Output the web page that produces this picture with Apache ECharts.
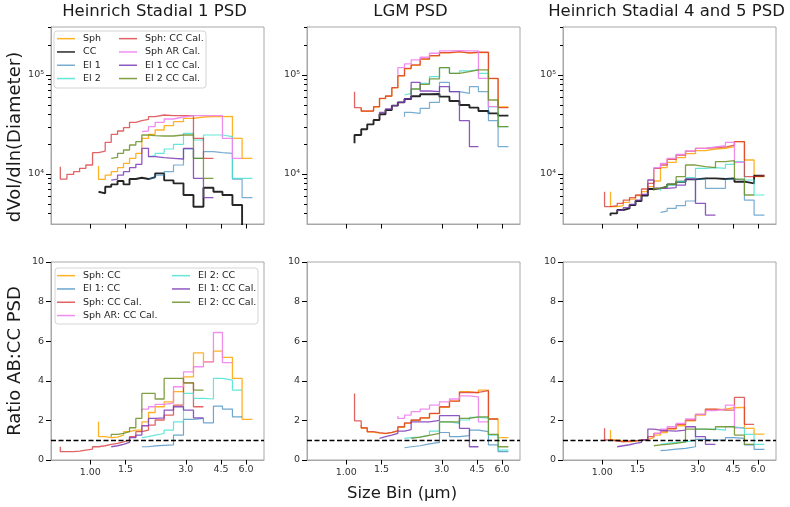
<!DOCTYPE html>
<html><head><meta charset="utf-8">
<script src="https://cdn.jsdelivr.net/npm/echarts@6/dist/echarts.min.js"></script>
<style>html,body{margin:0;padding:0;background:#fff}#c{width:790px;height:507px}</style>
</head><body><div id="c"></div>
<script>
// ---------------- data ----------------
// shared size-bin edges (µm)
const binEdges = [0.709,0.765,0.826,0.885,0.951,1.027,1.100,1.188,1.273,1.369,1.466,1.571,1.689,1.810,1.954,2.109,2.339,2.604,2.921,3.276,3.675,4.122,4.571,5.127,5.729,6.451];

const panelTitles = ['Heinrich Stadial 1 PSD', 'LGM PSD', 'Heinrich Stadial 4 and 5 PSD'];
const psdNames = ['Sph','CC','El 1','El 2','Sph: CC Cal.','Sph AR Cal.','El 1 CC Cal.','El 2 CC Cal.'];
const ratioNames = ['Sph: CC','El 1: CC','Sph: CC Cal.','Sph AR: CC Cal.','El 2: CC','El 1: CC Cal.','El 2: CC Cal.'];
const xTickVals = [1.0, 1.5, 3.0, 4.5, 6.0];
const xTickText = ['1.00','1.5','3.0','4.5','6.0'];
const yMajorVals = [1e4, 1e5];
const yMajorText = ['10\u2074','10\u2075'];
const yMinorVals = [4000,5000,6000,7000,8000,9000,20000,30000,40000,50000,60000,70000,80000,90000,200000,300000];
const ratioTicks = [0,2,4,6,8,10];
const refRatio = 1;

// ----- Heinrich Stadial 1 PSD (first bin index, values) -----
const hs1Starts = [6,6,14,14,0,13,8,8];
const hs1_sph   = [12050,8830,9770,10560,11590,12810,14400,16170,22930,25160,27830,30780,33780,36500,37650,37940,37940,38240,22930,14400];
const hs1_cc    = [6630,6380,7450,7860,8500,7860,8900,9180,8900,9320,10160,8630,8050,6140,4680,7280,6630,6140,4860,2830];
const hs1_el1   = [8900,9180,9770,10560,12330,17890,14400,16810,16420,16170,8900,5770];
const hs1_el2   = [14970,15320,16170,17890,19940,25750,22060,24770,24770,23830,9040,9040];
const hs1_sphCal= [11860,8900,9920,10560,11410,12330,16420,17070,20880,25160,27190,29380,33260,34570,35660,37940,39450,38840,38840,38840,22930,14400];
const hs1_sphAR = [26770,27190,30070,33260,35940,37650,38840,38840,38840,38840,22930,14400];
const hs1_el1Cal= [8700,8900,9770,10560,11590,12520,18170,14970,14620,14400,14180,18170,9040,5770];
const hs1_el2Cal= [14400,14740,16170,17480,19630,21210,24770,24390,24200,24200,24770,24770,14400,9040];

// ----- LGM PSD -----
const lgmStarts = [7,6,14,14,6,13,10,15];
const lgm_sph   = [46500,43000,43300,47500,57800,61000,74000,97500,115500,125000,144000,156000,167000,171000,166000,169000,168000,92000,47500];
const lgm_cc    = [20400,24770,28270,31750,35110,40070,44310,49000,52950,57240,60890,63790,64290,60420,54620,49770,46780,43290,41000,38840];
const lgm_el1   = [37940,41960,41000,46060,52950,84340,67850,65270,76240,67850,34570,18880];
const lgm_el2   = [62810,65270,72210,82400,96200,118600,104000,109800,112400,104000,47880,30070];
const lgm_sphCal= [67850,46780,43290,43290,47880,58130,61370,74490,98460,116800,126200,145100,156800,168100,172100,166800,169500,169500,92540,46780];
const lgm_sphAR = [100000,118600,129200,141800,150900,165600,174800,176100,174800,174800,92540,47880];
const lgm_el1Cal= [37940,41960,45350,49000,52950,57240,84340,68910,67850,76240,67850,34570,18880];
const lgm_el2Cal= [62810,72210,80490,91120,118600,104000,108100,112400,112400,55920,30070];

// ----- Heinrich Stadial 4 and 5 PSD -----
const hs45Starts = [6,6,14,14,5,13,7,13];
const hs45_sph   = [6630,4680,4790,5170,5590,6050,6630,7450,8500,11590,13110,14620,16050,17210,17890,18170,18880,21210,13850,9400];
const hs45_cc    = [3800,4010,4330,4500,4860,5340,6050,7060,7170,7450,7860,8370,8830,9040,9040,8900,9040,8370,8050,9620];
const hs45_el1   = [4100,4230,4500,4790,5340,8900,7170,7170,8900,8700,5460,3850];
const hs45_el2   = [6790,7170,7740,8370,9180,11410,11590,11410,12520,13320,8700,6140];
const hs45_sphCal= [6630,4680,4790,5060,5460,5770,6140,7060,8050,11410,12330,14070,15560,17070,18170,18450,18740,19630,21210,9400,9620];
const hs45_sphAR = [10560,11590,12810,14400,15800,17070,18170,18740,19330,20880,13110];
const hs45_el1Cal= [4100,4300,4570,4940,5460,6240,8700,7170,7170,7280,7740,8900,5060,3850];
const hs45_el2Cal= [6790,7170,7450,7860,9400,12330,11860,11590,13320,13630,8900,6140];

// ----- Ratio AB:CC, Heinrich Stadial 1 -----
const hs1rStarts = [6,13,0,13,13,8,8];
const hs1r_sph   = [1.93,1.18,1.13,1.16,1.26,1.43,1.51,1.51,1.93,2.40,2.69,2.94,3.45,4.20,5.41,4.96,5.50,5.18,4.12,2.05];
const hs1r_el1   = [0.67,0.67,0.71,0.74,0.76,1.26,2.05,2.10,1.88,2.72,2.57,2.18];
const hs1r_sphCal= [0.67,0.42,0.42,0.45,0.50,0.55,0.67,0.72,0.79,0.84,0.92,1.01,1.18,1.43,1.51,1.76,2.02,2.27,2.77,3.90,2.69];
const hs1r_sphAR = [2.44,2.57,2.69,2.81,2.87,3.70,4.45,4.71,4.96,6.44,4.92];
const hs1r_el2   = [1.13,1.18,1.26,1.34,1.51,1.93,3.36,3.11,3.08,4.12,4.03,3.53];
const hs1r_el1Cal= [0.67,0.72,0.79,0.89,1.13,1.26,1.73,2.10,2.13,2.52,2.69,2.52,2.13];
const hs1r_el2Cal= [1.18,1.29,1.34,1.43,1.63,2.10,3.36,3.36,3.08,4.12,4.12,3.90,3.53];

// ----- Ratio AB:CC, LGM -----
const lgmrStarts = [7,14,6,13,14,10,15];
const lgmr_sph   = [1.76,1.60,1.41,1.36,1.33,1.38,1.46,1.65,1.85,2.00,2.12,2.34,2.66,2.97,3.45,3.39,3.53,2.07,1.13];
const lgmr_el1   = [0.62,0.67,0.72,0.81,0.89,1.39,1.18,1.23,1.51,1.43,0.76,0.42];
const lgmr_sphCal= [3.36,1.98,1.63,1.43,1.38,1.34,1.39,1.48,1.68,1.88,2.02,2.13,2.35,2.69,2.97,3.41,3.41,3.50,2.07];
const lgmr_sphAR = [2.22,2.10,2.27,2.44,2.57,2.77,2.94,3.08,3.24,3.19,1.93];
const lgmr_el2   = [1.09,1.13,1.16,1.26,1.46,1.93,1.85,2.02,2.15,2.13,1.26,0.50];
const lgmr_el1Cal= [1.09,1.18,1.26,1.34,1.46,1.53,1.93,1.93,2.00,2.24,2.24,1.60,0.67];
const lgmr_el2Cal= [1.09,1.16,1.24,1.34,1.93,1.93,2.10,2.18,2.18,1.29,0.67];

// ----- Ratio AB:CC, Heinrich Stadial 4 and 5 -----
const hs45rStarts = [6,14,5,13,14,7,13];
const hs45r_sph   = [1.51,1.01,0.96,0.92,0.96,0.99,1.04,1.13,1.26,1.39,1.56,1.73,1.98,2.27,2.55,2.57,2.64,2.66,1.60,1.31];
const hs45r_el1   = [0.47,0.50,0.55,0.59,0.67,1.04,1.01,1.01,1.13,1.09,0.76,0.54];
const hs45r_sphCal= [1.60,1.01,0.96,0.92,0.96,0.97,1.01,1.04,1.18,1.34,1.46,1.60,1.80,2.02,2.30,2.57,2.52,2.52,3.16,1.80];
const hs45r_sphAR = [1.18,1.34,1.56,1.68,1.85,2.07,2.30,2.50,2.57,2.77,1.63];
const hs45r_el2   = [0.79,0.84,0.89,0.92,0.99,1.56,1.56,1.51,1.68,1.60,1.29,0.79];
const hs45r_el1Cal= [0.67,0.72,0.77,0.84,0.89,1.01,1.56,1.51,1.48,1.46,1.51,1.68,1.18,0.79];
const hs45r_el2Cal= [0.72,0.76,0.79,0.84,0.92,1.56,1.56,1.53,1.68,1.68,1.26,0.79];

// ---------------- styles / layout ----------------
const FONT = 'DejaVu Sans';
const X_MIN = 0.637, X_MAX = 7.37, Y_MIN = 3130, Y_MAX = 305000;
const gridLefts = [51, 307, 563];
const GW = 213;
const FRAME = '#a8a8a8';
const TICK = '#000';
const styleOf = {
  'Sph':            {c:'#ffa500', w:1.3, o:0.85},
  'CC':             {c:'#000000', w:1.9, o:0.85},
  'El 1':           {c:'#1f77b4', w:1.2, o:0.6},
  'El 2':           {c:'#40e0d0', w:1.2, o:0.8},
  'Sph: CC Cal.':   {c:'#d62728', w:1.3, o:0.72},
  'Sph AR Cal.':    {c:'#ee82ee', w:1.3, o:0.9},
  'El 1 CC Cal.':   {c:'#7b3ab5', w:1.3, o:0.85},
  'El 2 CC Cal.':   {c:'#6b8e23', w:1.3, o:0.85},
  'Sph: CC':        {c:'#ffa500', w:1.3, o:0.85},
  'El 1: CC':       {c:'#1f77b4', w:1.2, o:0.65},
  'Sph AR: CC Cal.':{c:'#ee82ee', w:1.3, o:0.9},
  'El 2: CC':       {c:'#40e0d0', w:1.2, o:0.8},
  'El 1: CC Cal.':  {c:'#7b3ab5', w:1.3, o:0.85},
  'El 2: CC Cal.':  {c:'#6b8e23', w:1.3, o:0.85}
};

const panels = [
  {p:0, log:true,  names:psdNames,   starts:hs1Starts,  vals:[hs1_sph,hs1_cc,hs1_el1,hs1_el2,hs1_sphCal,hs1_sphAR,hs1_el1Cal,hs1_el2Cal]},
  {p:1, log:true,  names:psdNames,   starts:lgmStarts,  vals:[lgm_sph,lgm_cc,lgm_el1,lgm_el2,lgm_sphCal,lgm_sphAR,lgm_el1Cal,lgm_el2Cal]},
  {p:2, log:true,  names:psdNames,   starts:hs45Starts, vals:[hs45_sph,hs45_cc,hs45_el1,hs45_el2,hs45_sphCal,hs45_sphAR,hs45_el1Cal,hs45_el2Cal]},
  {p:3, log:false, names:ratioNames, starts:hs1rStarts, vals:[hs1r_sph,hs1r_el1,hs1r_sphCal,hs1r_sphAR,hs1r_el2,hs1r_el1Cal,hs1r_el2Cal]},
  {p:4, log:false, names:ratioNames, starts:lgmrStarts, vals:[lgmr_sph,lgmr_el1,lgmr_sphCal,lgmr_sphAR,lgmr_el2,lgmr_el1Cal,lgmr_el2Cal]},
  {p:5, log:false, names:ratioNames, starts:hs45rStarts,vals:[hs45r_sph,hs45r_el1,hs45r_sphCal,hs45r_sphAR,hs45r_el2,hs45r_el1Cal,hs45r_el2Cal]}
];

// ---------------- build option ----------------
const grids = [], xAxes = [], yAxes = [], series = [];
const labelColor = '#333';
const near = (a, b) => Math.abs(a - b) < 1e-6 * Math.max(1, Math.abs(b));
const mkLine = () => ({show:true, onZero:false, lineStyle:{color:FRAME, width:1}});
for (let p = 0; p < 6; p++) {
  const top = p < 3;
  grids.push({left: gridLefts[p % 3], top: top ? 27 : 262, width: GW, height: top ? 197 : 198,
    show: true, borderColor: FRAME});
  xAxes.push({type:'log', logBase:10, gridIndex:p, min:X_MIN, max:X_MAX,
    axisLine:mkLine(), splitLine:{show:false}, minorTick:{show:false},
    axisTick:{show:true, customValues:xTickVals.slice(), length:4.5, lineStyle:{color:TICK, width:1}},
    axisLabel:{show:!top, customValues:xTickVals.slice(), margin:5, fontFamily:FONT, fontSize:9.5, color:labelColor,
      formatter: v => { const i = xTickVals.findIndex(t => near(v, t));
        return i < 0 ? '' : (i === 0 ? '{maj|' + xTickText[i] + '}' : xTickText[i]); },
      rich:{maj:{fontFamily:FONT, fontSize:9.5, color:labelColor, padding:[3,0,0,0]}}}
  });
}
// y axes: top panels major + minor (log), bottom panels linear
const yIndex = [];
for (let p = 0; p < 3; p++) {
  yIndex[p] = yAxes.length;
  yAxes.push({type:'log', logBase:10, gridIndex:p, min:Y_MIN, max:Y_MAX,
    axisLine:mkLine(), splitLine:{show:false},
    axisTick:{show:true, customValues:yMajorVals.slice(), length:5, lineStyle:{color:TICK, width:1}},
    axisLabel:{customValues:yMajorVals.slice(), margin:7, fontFamily:FONT, fontSize:9.5, color:labelColor,
      formatter: v => { const i = yMajorVals.findIndex(t => near(v, t)); return i >= 0 ? yMajorText[i] : ''; }}
  });
  yAxes.push({type:'log', logBase:10, gridIndex:p, min:Y_MIN, max:Y_MAX, position:'left',
    axisLine:mkLine(), splitLine:{show:false},
    axisTick:{show:true, customValues:yMinorVals.slice(), length:3, lineStyle:{color:TICK, width:1}},
    axisLabel:{show:false}
  });
}
for (let p = 3; p < 6; p++) {
  yIndex[p] = yAxes.length;
  yAxes.push({type:'value', gridIndex:p, min:ratioTicks[0], max:ratioTicks[ratioTicks.length-1], interval:2,
    axisLine:mkLine(), splitLine:{show:false},
    axisTick:{show:true, length:5, lineStyle:{color:TICK, width:1}},
    axisLabel:{margin:7, fontFamily:FONT, fontSize:9.5, color:labelColor}
  });
}

panels.forEach(pn => {
  pn.names.forEach((nm, k) => {
    const st = styleOf[nm];
    const s0 = pn.starts[k];
    const data = pn.vals[k].map((v, j) => [binEdges[s0 + j], v]);
    const s = {
      type:'line', name:nm, xAxisIndex:pn.p, yAxisIndex:yIndex[pn.p], step:'start',
      symbol:'none', showSymbol:false, clip:true, data:data, silent:true,
      lineStyle:{color:st.c, width:st.w, opacity:st.o}, itemStyle:{color:st.c, opacity:st.o},
      emphasis:{disabled:true}
    };
    if (!pn.log && k === pn.names.length - 1) {
      s.markLine = {silent:true, symbol:['none','none'], label:{show:false},
        lineStyle:{color:'#000', type:[5,2.5], width:1.3, opacity:1},
        emphasis:{disabled:true}, data:[{yAxis:refRatio}]};
    }
    series.push(s);
  });
});

const legends = [
  {data:psdNames.slice(0,4), left:57, top:32},
  {data:psdNames.slice(4),   left:119, top:32},
  {data:ratioNames.slice(0,4), left:57, top:269},
  {data:ratioNames.slice(4),   left:172, top:269}
].map(l => Object.assign({orient:'vertical', icon:'rect', itemWidth:18, itemHeight:1.5, itemGap:0, padding:0,
  selectedMode:false, z:20,
  textStyle:{fontFamily:FONT, fontSize:9.5, color:'#222', lineHeight:13.3, padding:[0,0,0,3]}}, l));

const titles = panelTitles.map((t, i) => ({text:t, left:gridLefts[i] + GW/2 - 3, top:3, textAlign:'center', padding:0,
  textStyle:{fontFamily:FONT, fontSize:16.5, fontWeight:'normal', color:'#1a1a1a'}}));

const option = {
  animation:false,
  backgroundColor:'#ffffff',
  title: titles,
  grid: grids,
  xAxis: xAxes,
  yAxis: yAxes,
  legend: legends,
  series: series,
  graphic: [
    {type:'rect', z:10, shape:{x:54, y:31, width:152, height:57, r:3}, style:{fill:'rgba(255,255,255,0.85)', stroke:'#d4d4d4', lineWidth:1}},
    {type:'rect', z:10, shape:{x:55, y:268, width:203, height:56, r:3}, style:{fill:'rgba(255,255,255,0.85)', stroke:'#d4d4d4', lineWidth:1}},
    {type:'text', z:20, x:15, y:137, rotation:Math.PI/2, style:{text:'dVol/dln(Diameter)', font:'18px "DejaVu Sans"', fill:'#1a1a1a', textAlign:'center', textVerticalAlign:'middle', align:'center', verticalAlign:'middle'}},
    {type:'text', z:20, x:15, y:361, rotation:Math.PI/2, style:{text:'Ratio AB:CC PSD', font:'18px "DejaVu Sans"', fill:'#1a1a1a', textAlign:'center', textVerticalAlign:'middle', align:'center', verticalAlign:'middle'}},
    {type:'text', z:20, x:402, y:494, style:{text:'Size Bin (\u03bcm)', font:'16.5px "DejaVu Sans"', fill:'#1a1a1a', textAlign:'center', textVerticalAlign:'middle', align:'center', verticalAlign:'middle'}}
  ]
};
const chart = echarts.init(document.getElementById('c'), null, {renderer:'canvas'});
chart.setOption(option);
</script></body></html>
